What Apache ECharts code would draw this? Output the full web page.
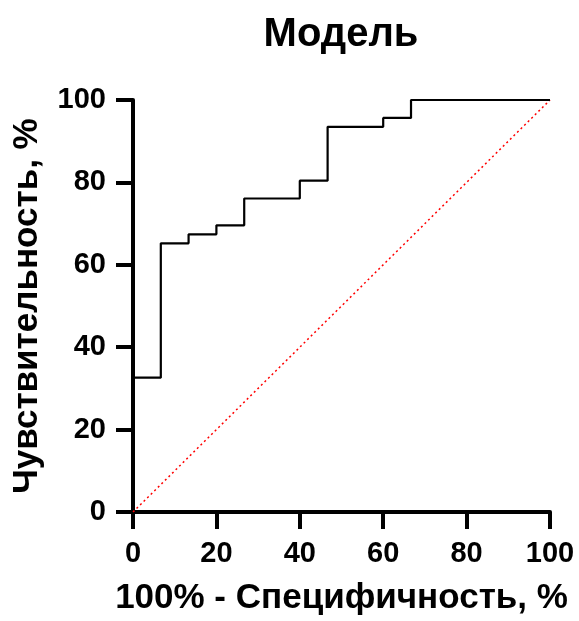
<!DOCTYPE html>
<html>
<head>
<meta charset="utf-8">
<script src="https://cdn.jsdelivr.net/npm/echarts@6/dist/echarts.min.js"></script>
<style>
  html, body { margin: 0; padding: 0; background: #fff; }
  #chart { width: 579px; height: 621px; }
</style>
</head>
<body>
<div id="chart"></div>
<script>
// Кривая ROC: 100% - специфичность (x) и чувствительность (y)
const rocX = [0, 6.67, 13.33, 20, 26.67, 40, 46.67, 60, 66.67, 100];
const rocY = [32.61, 65.22, 67.39, 69.57, 76.09, 80.43, 93.48, 95.65, 100, 100];
const diagX = [0, 100];
const diagY = [0, 100];
const xTicks = [0, 20, 40, 60, 80, 100];
const yTicks = [0, 20, 40, 60, 80, 100];

const font = "'Liberation Sans', Arial, sans-serif";

const chart = echarts.init(document.getElementById("chart"));

const axisCommon = {
    type: "value",
    min: 0,
    max: 100,
    interval: 20,
    nameLocation: "middle",
    nameTextStyle: { fontFamily: font, fontWeight: "bold", fontSize: 35, color: "#000" },
    axisLine: { show: true, lineStyle: { color: "#000", width: 4 } },
    axisTick: { show: true, length: 17, lineStyle: { color: "#000", width: 4 } },
    axisLabel: { fontFamily: font, fontWeight: "bold", fontSize: 29, color: "#000", margin: 27 },
    splitLine: { show: false }
};

chart.setOption({
    animation: false,
    backgroundColor: "#fff",
    title: {
        text: "Модель",
        left: 336,
        top: 10,
        textAlign: "center",
        textStyle: { fontFamily: font, fontWeight: "bold", fontSize: 40, color: "#000" }
    },
    grid: { left: 133, right: 29, top: 100, bottom: 107 },
    xAxis: Object.assign({}, axisCommon, {
        name: "100% - Специфичность, %",
        nameGap: 69,
        axisLabel: Object.assign({}, axisCommon.axisLabel, {
            formatter: v => xTicks.includes(v) ? String(v) : ""
        })
    }),
    yAxis: Object.assign({}, axisCommon, {
        name: "Чувствительность, %",
        nameGap: 88,
        axisLabel: Object.assign({}, axisCommon.axisLabel, {
            formatter: v => yTicks.includes(v) ? String(v) : ""
        })
    }),
    series: [
        {
            type: "line",
            data: diagX.map((x, i) => [x, diagY[i]]),
            symbol: "none",
            lineStyle: { color: "#ff0000", width: 1.5, type: [2, 3] },
            z: 1
        },
        {
            type: "line",
            step: "end",
            data: rocX.map((x, i) => [x, rocY[i]]),
            symbol: "none",
            lineStyle: { color: "#000", width: 2.2 },
            z: 2
        }
    ]
});

window.addEventListener("resize", () => chart.resize());
</script>
</body>
</html>
